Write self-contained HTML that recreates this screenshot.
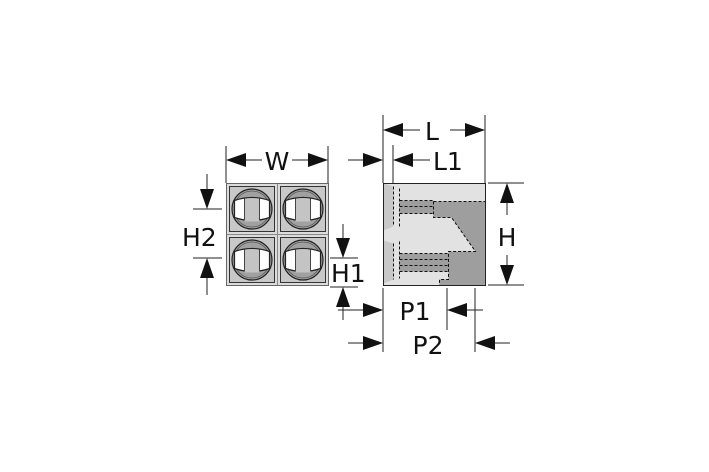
<!DOCTYPE html>
<html><head><style>html,body{margin:0;padding:0;background:#fff;}svg{display:block}</style></head>
<body>
<svg width="709" height="472" viewBox="0 0 709 472" xmlns="http://www.w3.org/2000/svg" font-family="'DejaVu Sans','Liberation Sans',sans-serif">
<defs>
<g id="cell">
<rect x="0" y="0" width="51" height="51" fill="#dcdcdc" stroke="#888" stroke-width="1"/>
<rect x="3" y="3" width="45" height="45" fill="#c8c8c8" stroke="#333" stroke-width="1"/>
<circle cx="25.5" cy="25.5" r="20" fill="#a0a0a0" stroke="#222" stroke-width="1.2"/>
<circle cx="25.5" cy="25.5" r="18" fill="none" stroke="#555" stroke-width="0.8"/>
<path d="M8 17 Q25.5 11 43 17 L43 34 Q25.5 40 8 34 Z" fill="#fff" stroke="#222" stroke-width="1.2"/>
<rect x="18" y="15" width="15" height="23" fill="#c4c4c4"/>
<line x1="18" y1="15" x2="18" y2="37" stroke="#444"/>
<line x1="33" y1="15" x2="33" y2="37" stroke="#444"/>
</g>
</defs>
<g stroke="#222" stroke-width="1" fill="none">
<!-- left ext lines -->
<line x1="226" y1="146" x2="226" y2="183"/><line x1="328" y1="146" x2="328" y2="183"/>
<line x1="244" y1="160" x2="262" y2="160"/><line x1="292" y1="160" x2="312" y2="160"/>
<line x1="193" y1="209" x2="222" y2="209"/><line x1="193" y1="258" x2="222" y2="258"/>
<line x1="207" y1="174" x2="207" y2="195"/><line x1="207" y1="272" x2="207" y2="295"/>
<line x1="330" y1="258" x2="358" y2="258"/><line x1="330" y1="287" x2="358" y2="287"/>
<line x1="343" y1="224" x2="343" y2="244"/><line x1="343" y1="300" x2="343" y2="320"/>
<!-- right -->
<line x1="383" y1="115" x2="383" y2="183"/><line x1="485" y1="115" x2="485" y2="183"/>
<line x1="393" y1="145" x2="393" y2="183"/>
<line x1="400" y1="130" x2="420" y2="130"/><line x1="450" y1="130" x2="468" y2="130"/>
<line x1="348" y1="160" x2="368" y2="160"/><line x1="410" y1="160" x2="430" y2="160"/>
<line x1="488" y1="183" x2="524" y2="183"/><line x1="488" y1="285" x2="524" y2="285"/>
<line x1="507" y1="200" x2="507" y2="215"/><line x1="507" y1="255" x2="507" y2="268"/>
<line x1="383" y1="288" x2="383" y2="352"/><line x1="447" y1="288" x2="447" y2="330"/><line x1="475" y1="288" x2="475" y2="352"/>
<line x1="338" y1="310" x2="366" y2="310"/><line x1="464" y1="310" x2="483" y2="310"/>
<line x1="348" y1="343" x2="366" y2="343"/><line x1="492" y1="343" x2="510" y2="343"/>
</g>
<g fill="#111">
<polygon points="226,160 246,153 246,167"/><polygon points="328,160 308,153 308,167"/>
<polygon points="207,209 200,189 214,189"/><polygon points="207,258 200,278 214,278"/>
<polygon points="343,258 336,238 350,238"/><polygon points="343,287 336,307 350,307"/>
<polygon points="383,130 403,123 403,137"/><polygon points="485,130 465,123 465,137"/>
<polygon points="383,160 363,153 363,167"/><polygon points="393,160 413,153 413,167"/>
<polygon points="507,183 500,203 514,203"/><polygon points="507,285 500,265 514,265"/>
<polygon points="383,310 363,303 363,317"/><polygon points="447,310 467,303 467,317"/>
<polygon points="383,343 363,336 363,350"/><polygon points="475,343 495,336 495,350"/>
</g>
<g fill="#111" font-size="25">
<text x="277" y="170" text-anchor="middle">W</text>
<text x="182" y="246">H2</text>
<text x="331" y="282">H1</text>
<text x="432" y="140" text-anchor="middle">L</text>
<text x="433" y="170">L1</text>
<text x="507" y="246" text-anchor="middle">H</text>
<text x="415" y="320" text-anchor="middle">P1</text>
<text x="428" y="354" text-anchor="middle">P2</text>
</g>
<!-- left body -->
<use href="#cell" x="226.5" y="183.5"/><use href="#cell" x="277.5" y="183.5"/>
<use href="#cell" x="226.5" y="234.5"/><use href="#cell" x="277.5" y="234.5"/>
<rect x="226.5" y="183.5" width="102" height="102" fill="none" stroke="#666"/>
<!-- right body -->
<g transform="translate(383.5,183.5)">
<rect x="0" y="0" width="102" height="102" fill="#e2e2e2"/>
<polygon points="16,17 50,17 50,18 102,18 102,102 56,102 56,96 65,96 65,68 92,68 68,34 50,34 50,30 16,30" fill="#9e9e9e"/>
<rect x="16" y="70" width="50" height="18" fill="#9e9e9e"/>
<polygon points="0,0 10,3 10,43 0,47" fill="#c8c8c8"/>
<polygon points="0,57 10,60 10,96 0,100" fill="#c8c8c8"/>
<g fill="none" stroke="#111" stroke-dasharray="3,2" stroke-width="1">
<path d="M10 3 V43 M16 5 V44 M16 17 H50 V34 H68 L92 68 H65 V96 H56 V102"/>
<path d="M16 23 H50 M16 30 H50 M50 18 H102"/>
<path d="M10 60 V96 M16 58 V95 M16 70 H65 M16 76 H65 M16 82 H65 M16 88 H65"/>
</g>
<rect x="0" y="0" width="102" height="102" fill="none" stroke="#222"/>
</g>
</svg>
</body></html>
